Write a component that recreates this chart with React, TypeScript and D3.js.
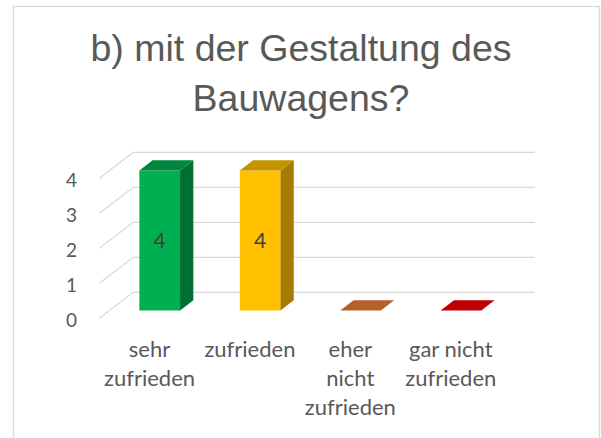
import { useEffect, useRef } from "react";
import * as d3 from "d3";

const categories = ["sehr zufrieden", "zufrieden", "eher nicht zufrieden", "gar nicht zufrieden"];
const labelLines = [["sehr", "zufrieden"], ["zufrieden"], ["eher", "nicht", "zufrieden"], ["gar nicht", "zufrieden"]];
const values = [4, 4, 0, 0];
const yTicks = [0, 1, 2, 3, 4];
const frontColors = ["#00B050", "#FFC000", "#ED7D31", "#C00000"];
const topColors = ["#00873D", "#C49300", "#B6612A", "#C00000"];
const sideColors = ["#007032", "#A67B00", "#9E4F1F", "#9A0000"];
const titleLines = ["b) mit der Gestaltung des", "Bauwagens?"];

const App = () => {
  const svgRef = useRef<SVGSVGElement>(null);

  useEffect(() => {
    const w = 601;
    const h = 438;
    const svg = d3.select(svgRef.current);
    svg.selectAll("*").remove();

    // chart border
    svg.append("rect")
      .attr("x", 13.5).attr("y", 6.5)
      .attr("width", 586).attr("height", 440)
      .attr("fill", "#fff").attr("stroke", "#D9D9D9").attr("stroke-width", 1.3);

    // title
    svg.append("g").selectAll("text")
      .data(titleLines)
      .join("text")
      .attr("x", 301)
      .attr("y", (d, i) => 60.5 + i * 50)
      .attr("text-anchor", "middle")
      .attr("font-family", "Liberation Sans, Arial, sans-serif")
      .attr("font-size", 37.5)
      .attr("fill", "#595959")
      .text(d => d);

    // 3d setup
    const depthX = 34;
    const depthY = -26;
    const x = d3.scaleBand().domain(categories).range([99.3, 501]).padding(0);
    const y = d3.scaleLinear().domain([0, 4]).range([318.3, 178.3]);

    const grid = svg.append("g").attr("stroke", "#D9D9D9").attr("stroke-width", 1.3).attr("fill", "none");
    // side wall diagonals and back wall lines
    yTicks.forEach(t => {
      const x0 = x.range()[0];
      const x1 = x.range()[1];
      grid.append("path")
        .attr("d", `M${x0},${y(t)} L${x0 + depthX},${y(t) + depthY} L${x1 + depthX},${y(t) + depthY}`);
    });

    // y tick labels
    svg.append("g").selectAll("text")
      .data(yTicks)
      .join("text")
      .attr("x", 77)
      .attr("y", d => y(d) + 8.4)
      .attr("text-anchor", "end")
      .attr("font-family", "Lato, sans-serif")
      .attr("font-size", 19)
      .attr("fill", "#595959")
      .text(d => d);

    // bars
    const bw = x.bandwidth() * 0.405;
    const d0 = 0.3;
    const d1 = 0.69;
    const bars = svg.append("g");
    categories.forEach((c, i) => {
      const cx = x(c)! + x.bandwidth() / 2 + d0 * depthX;
      const left = cx - bw / 2;
      const right = cx + bw / 2;
      const top = y(values[i]) + d0 * depthY;
      const bottom = y(0) + d0 * depthY;
      const ddx = (d1 - d0) * depthX;
      const ddy = (d1 - d0) * depthY;
      if (values[i] > 0) {
        bars.append("rect")
          .attr("x", left).attr("y", top)
          .attr("width", bw).attr("height", bottom - top)
          .attr("fill", frontColors[i]);
        bars.append("path")
          .attr("d", `M${right},${top} L${right + ddx},${top + ddy} L${right + ddx},${bottom + ddy} L${right},${bottom} Z`)
          .attr("fill", sideColors[i]);
      }
      bars.append("path")
        .attr("d", `M${left},${top} L${left + ddx},${top + ddy} L${right + ddx},${top + ddy} L${right},${top} Z`)
        .attr("fill", topColors[i]);
      if (values[i] > 0) {
        bars.append("text")
          .attr("x", cx)
          .attr("y", (top + bottom) / 2 + 7.5)
          .attr("text-anchor", "middle")
          .attr("font-family", "Lato, sans-serif")
          .attr("font-size", 21)
          .attr("fill", "#404040")
          .text(values[i]);
      }
    });

    // category labels
    const cat = svg.append("g");
    categories.forEach((c, i) => {
      cat.append("text")
        .attr("text-anchor", "middle")
        .attr("font-family", "Lato, sans-serif")
        .attr("font-size", 22)
        .attr("fill", "#595959")
        .selectAll("tspan")
        .data(labelLines[i])
        .join("tspan")
        .attr("x", x(c)! + x.bandwidth() / 2)
        .attr("y", (d, j) => 356.7 + j * 29)
        .text(d => d);
    });

    svg.attr("width", w).attr("height", h);
  }, []);

  return (
    <svg ref={svgRef} width={601} height={438}
      style={{ position: "absolute", left: 0, top: 0, background: "#fff" }} />
  );
};

export default App;
